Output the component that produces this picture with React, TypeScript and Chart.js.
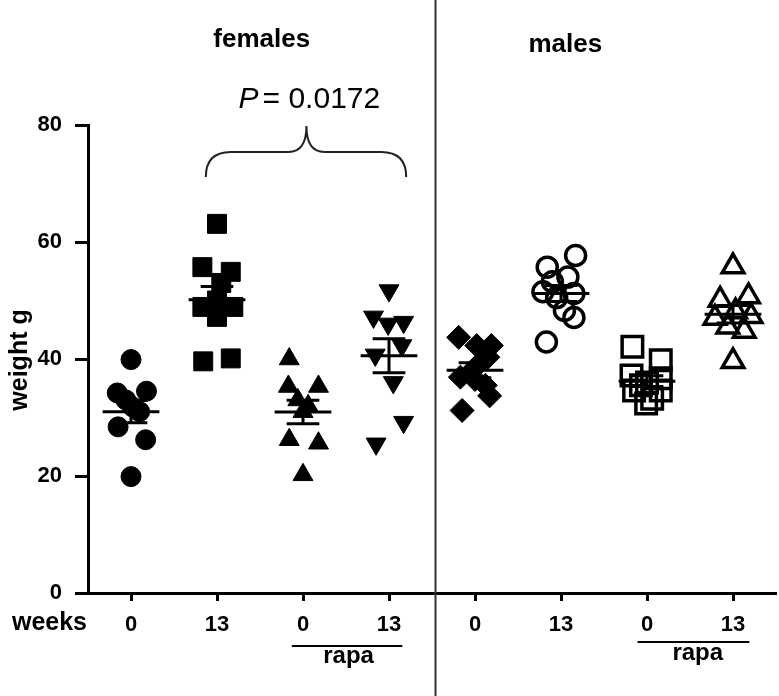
import { useEffect, useRef } from "react";
import { Chart, registerables } from "chart.js";

Chart.register(...registerables);

// ---- data ----
const weekLabels = ["0", "13", "0", "13", "0", "13", "0", "13"];
const groupPositions = [1, 2, 3, 4, 5, 6, 7, 8];
const yTickValues = [0, 20, 40, 60, 80];

const femalesW0 = [39.9, 34.5, 34.2, 33.0, 31.8, 31.0, 28.4, 26.2, 19.9];
const femalesW0Jitter = [0, 0.18, -0.16, -0.06, 0.02, 0.1, -0.15, 0.17, 0];

const femalesW13 = [63.1, 55.7, 54.9, 53.0, 50.0, 48.9, 48.9, 47.2, 39.6, 40.1];
const femalesW13Jitter = [0, -0.17, 0.16, 0.05, 0, -0.17, 0.19, 0, -0.16, 0.16];

const femalesRapaW0 = [40.0, 35.3, 35.3, 33.0, 32.0, 31.0, 26.2, 25.6, 20.2];
const femalesRapaW0Jitter = [-0.16, -0.17, 0.18, -0.06, 0.06, 0, -0.16, 0.18, 0];

const femalesRapaW13 = [51.7, 47.2, 46.0, 46.3, 42.3, 40.7, 36.0, 29.2, 25.5];
const femalesRapaW13Jitter = [0, -0.18, -0.01, 0.17, 0.15, -0.16, 0.05, 0.17, -0.15];

const malesW0 = [43.7, 42.3, 42.3, 40.3, 38.5, 36.9, 36.5, 35.5, 33.7, 31.2];
const malesW0Jitter = [-0.19, 0.02, 0.19, 0.15, 0, -0.17, 0.0, 0.12, 0.17, -0.15];

const malesW13 = [57.7, 55.7, 54.0, 53.2, 51.5, 51.2, 50.5, 48.3, 47.1, 42.9];
const malesW13Jitter = [0.17, -0.16, 0.08, -0.1, -0.21, 0.15, -0.05, 0.04, 0.15, -0.17];

const malesRapaW0 = [42.1, 39.8, 37.2, 36.7, 36.0, 35.5, 34.6, 34.6, 33.2, 32.4];
const malesRapaW0Jitter = [-0.17, 0.16, -0.18, 0.16, 0, -0.07, -0.15, 0.16, 0.06, -0.01];

const malesRapaW13 = [55.8, 50.1, 50.7, 48.1, 47.0, 47.3, 45.5, 44.8, 39.6];
const malesRapaW13Jitter = [0, -0.15, 0.18, 0.03, -0.21, 0.21, -0.06, 0.13, 0];

const FONT = "'Liberation Sans', Arial, Helvetica, sans-serif";

type Group = {
  values: number[];
  jitter: number[];
  style: string;
  radius: number;
  rotation: number;
  filled: boolean;
  borderWidth: number;
};

const groups: Group[] = [
  { values: femalesW0, jitter: femalesW0Jitter, style: "circle", radius: 10, rotation: 0, filled: true, borderWidth: 1 },
  { values: femalesW13, jitter: femalesW13Jitter, style: "rect", radius: 13.4, rotation: 0, filled: true, borderWidth: 1 },
  { values: femalesRapaW0, jitter: femalesRapaW0Jitter, style: "triangle", radius: 11.5, rotation: 0, filled: true, borderWidth: 1 },
  { values: femalesRapaW13, jitter: femalesRapaW13Jitter, style: "triangle", radius: 11.5, rotation: 180, filled: true, borderWidth: 1 },
  { values: malesW0, jitter: malesW0Jitter, style: "rectRot", radius: 12, rotation: 0, filled: true, borderWidth: 1 },
  { values: malesW13, jitter: malesW13Jitter, style: "circle", radius: 10, rotation: 0, filled: false, borderWidth: 3.5 },
  { values: malesRapaW0, jitter: malesRapaW0Jitter, style: "rect", radius: 14.5, rotation: 0, filled: false, borderWidth: 3.5 },
  { values: malesRapaW13, jitter: malesRapaW13Jitter, style: "triangle", radius: 12.5, rotation: 0, filled: false, borderWidth: 3.5 },
];

const meanSem = (v: number[]) => {
  const n = v.length;
  const m = v.reduce((a, b) => a + b, 0) / n;
  const sd = Math.sqrt(v.reduce((a, b) => a + (b - m) * (b - m), 0) / (n - 1));
  return { m, sem: sd / Math.sqrt(n) };
};

const overlay = {
  id: "overlay",
  afterDatasetsDraw(chart: any) {
    const { ctx, scales } = chart;
    const x = scales.x;
    const y = scales.y;
    ctx.save();
    ctx.strokeStyle = "#000";
    ctx.lineWidth = 3;
    ctx.lineCap = "butt";
    groups.forEach((g, i) => {
      const { m, sem } = meanSem(g.values);
      const c = groupPositions[i];
      const ym = y.getPixelForValue(m);
      const yt = y.getPixelForValue(m + sem);
      const yb = y.getPixelForValue(m - sem);
      ctx.beginPath();
      ctx.moveTo(x.getPixelForValue(c - 0.33), ym);
      ctx.lineTo(x.getPixelForValue(c + 0.33), ym);
      ctx.moveTo(x.getPixelForValue(c), yt);
      ctx.lineTo(x.getPixelForValue(c), yb);
      ctx.moveTo(x.getPixelForValue(c - 0.19), yt);
      ctx.lineTo(x.getPixelForValue(c + 0.19), yt);
      ctx.moveTo(x.getPixelForValue(c - 0.19), yb);
      ctx.lineTo(x.getPixelForValue(c + 0.19), yb);
      ctx.stroke();
    });
    ctx.restore();
  },
  afterDraw(chart: any) {
    const { ctx, scales, chartArea } = chart;
    const x = scales.x;
    const H = chart.height;
    ctx.save();
    ctx.fillStyle = "#000";
    ctx.strokeStyle = "#000";

    // divider between females and males
    const dx = Math.round(x.getPixelForValue(4.53)) + 0.5;
    ctx.strokeStyle = "#333";
    ctx.lineWidth = 2;
    ctx.beginPath();
    ctx.moveTo(dx, 0);
    ctx.lineTo(dx, H);
    ctx.stroke();

    // titles
    ctx.textAlign = "center";
    ctx.textBaseline = "alphabetic";
    ctx.font = `bold 26px ${FONT}`;
    ctx.fillText("females", x.getPixelForValue(2.52), 47);
    ctx.fillText("males", x.getPixelForValue(6.05), 52);

    // y title
    ctx.save();
    ctx.translate(27, 360);
    ctx.rotate(-Math.PI / 2);
    ctx.font = `bold 25px ${FONT}`;
    ctx.textAlign = "center";
    ctx.textBaseline = "alphabetic";
    ctx.fillText("weight g", 0, 0);
    ctx.restore();

    // weeks label
    ctx.font = `bold 25px ${FONT}`;
    ctx.textAlign = "right";
    ctx.textBaseline = "middle";
    ctx.fillText("weeks", chartArea.left - 1, 623);

    // rapa bars
    ctx.strokeStyle = "#000";
    ctx.lineWidth = 2;
    ctx.beginPath();
    ctx.moveTo(x.getPixelForValue(2.87), 646);
    ctx.lineTo(x.getPixelForValue(4.155), 646);
    ctx.moveTo(x.getPixelForValue(6.89), 642);
    ctx.lineTo(x.getPixelForValue(8.19), 642);
    ctx.stroke();
    ctx.font = `bold 24px ${FONT}`;
    ctx.textAlign = "center";
    ctx.textBaseline = "alphabetic";
    ctx.fillText("rapa", x.getPixelForValue(3.53), 663);
    ctx.fillText("rapa", x.getPixelForValue(7.59), 660);

    // P value
    const pc = x.getPixelForValue(3.04);
    ctx.textAlign = "left";
    ctx.font = `italic 30px ${FONT}`;
    ctx.fillText("P", pc - 68, 108);
    ctx.font = `30px ${FONT}`;
    ctx.fillText("=", pc - 44, 108);
    ctx.fillText("0.0172", pc - 18, 108);

    // brace
    const bl = x.getPixelForValue(1.87);
    const br = x.getPixelForValue(4.2);
    const bc = x.getPixelForValue(3.04);
    ctx.lineWidth = 2;
    ctx.strokeStyle = "#222";
    ctx.beginPath();
    ctx.moveTo(bl, 177);
    ctx.quadraticCurveTo(bl, 152, bl + 25, 152);
    ctx.lineTo(bc - 18, 152);
    ctx.quadraticCurveTo(bc, 152, bc, 126);
    ctx.quadraticCurveTo(bc, 152, bc + 18, 152);
    ctx.lineTo(br - 25, 152);
    ctx.quadraticCurveTo(br, 152, br, 177);
    ctx.stroke();

    ctx.restore();
  },
};

export default function App() {
  const ref = useRef<HTMLCanvasElement | null>(null);
  useEffect(() => {
    if (!ref.current) return;
    const datasets = groups.map((g, i) => ({
      type: "scatter" as const,
      data: g.values.map((v, k) => ({ x: groupPositions[i] + g.jitter[k], y: v })),
      pointStyle: g.style,
      pointRadius: g.radius,
      pointRotation: g.rotation,
      pointBackgroundColor: g.filled ? "#000" : "rgba(0,0,0,0)",
      pointBorderColor: "#000",
      pointBorderWidth: g.borderWidth,
      showLine: false,
    }));
    const chart = new Chart(ref.current, {
      type: "scatter",
      data: { datasets },
      options: {
        animation: false,
        responsive: false,
        maintainAspectRatio: false,
        layout: { autoPadding: false, padding: { left: 0, top: 125, right: 3, bottom: 63 } },
        plugins: { legend: { display: false }, tooltip: { enabled: false } },
        scales: {
          x: {
            type: "linear",
            min: 0.5,
            max: 8.5,
            afterBuildTicks: (s: any) => {
              s.ticks = groupPositions.map((v) => ({ value: v }));
            },
            afterFit: (s: any) => {
              s.height = 40;
              s.paddingLeft = 0;
              s.paddingRight = 0;
            },
            ticks: {
              color: "#000",
              font: { family: FONT, size: 22, weight: "bold" },
              padding: 11,
              maxRotation: 0,
              autoSkip: false,
              callback: (_v: any, i: number) => weekLabels[i],
            },
            grid: {
              display: true,
              drawOnChartArea: false,
              drawTicks: true,
              tickLength: 8,
              tickWidth: 3,
              tickColor: "#000",
            },
            border: { display: true, color: "#000", width: 3 },
          },
          y: {
            type: "linear",
            min: 0,
            max: 80,
            afterBuildTicks: (s: any) => {
              s.ticks = yTickValues.map((v) => ({ value: v }));
            },
            afterFit: (s: any) => {
              s.width = 88;
              s.paddingTop = 0;
              s.paddingBottom = 0;
            },
            ticks: {
              color: "#000",
              font: { family: FONT, size: 22, weight: "bold" },
              padding: 13,
              callback: (v: any) => String(v),
            },
            grid: {
              display: true,
              drawOnChartArea: false,
              drawTicks: true,
              tickLength: 13,
              tickWidth: 3,
              tickColor: "#000",
            },
            border: { display: true, color: "#000", width: 3 },
          },
        },
      },
      plugins: [overlay],
    });
    return () => chart.destroy();
  }, []);
  return (
    <div style={{ position: "absolute", left: 0, top: 0, width: 779, height: 696, background: "#fff" }}>
      <canvas ref={ref} width={779} height={696} style={{ width: 779, height: 696, display: "block" }} />
    </div>
  );
}
